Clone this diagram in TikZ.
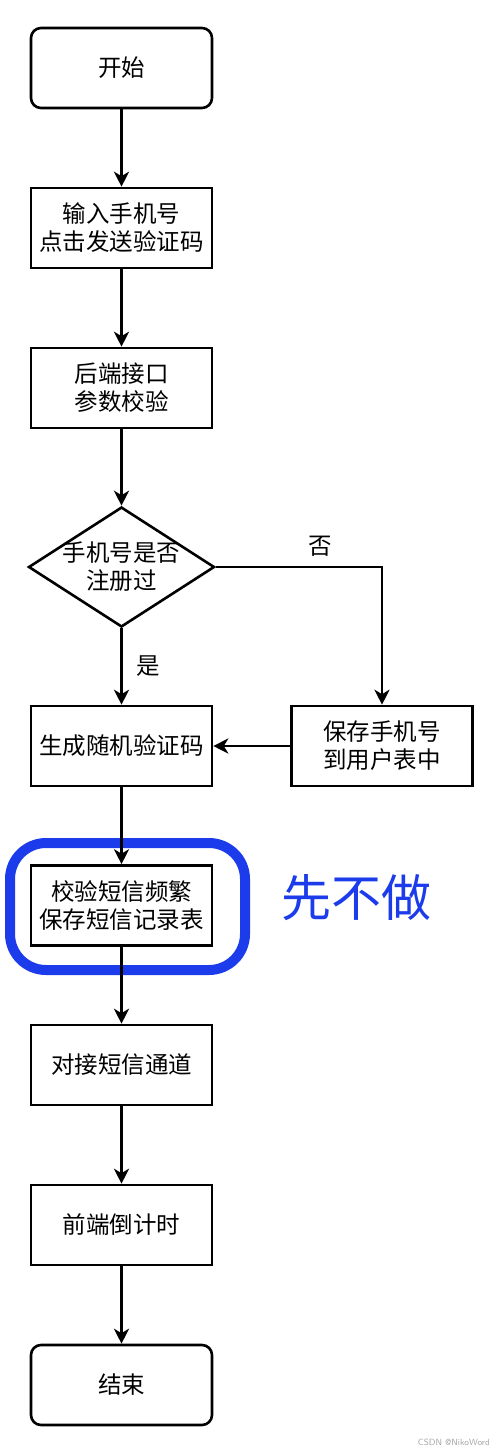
\documentclass[tikz,border=0pt]{standalone}
\usepackage{fontspec}
\setmainfont{Noto Sans CJK SC}
\usetikzlibrary{shapes.geometric,arrows.meta}
\definecolor{todoblue}{RGB}{28,60,235}
\begin{document}
\begin{tikzpicture}[x=1pt,y=-1pt,
  every node/.style={font=\fontsize{23.5}{28}\selectfont, align=center, inner sep=0pt},
  procbox/.style={draw, line width=2.6pt, minimum width=181pt, minimum height=80pt},
  termbox/.style={procbox, rounded corners=10pt},
  decide/.style={draw, line width=2.6pt, shape=diamond, minimum width=186pt, minimum height=120pt},
  flow/.style={line width=2.6pt, -{Stealth[length=15pt,width=15pt,inset=4.5pt]}},
  lbl/.style={font=\fontsize{23.5}{26}\selectfont}]
\useasboundingbox (0,0) rectangle (500,1452);
\node[termbox] (start) at (121.5,68) {开始};
\node[procbox] (input) at (121.5,228) {输入手机号\\点击发送验证码};
\node[procbox] (check) at (121.5,388) {后端接口\\参数校验};
\node[decide] (reg) at (121.5,567) {};
\node (regtext) at (121.5,567) {手机号是否\\注册过};
\node[procbox] (gen) at (121.5,746) {生成随机验证码};
\node[procbox] (save) at (382,746) {保存手机号\\到用户表中};
\node[procbox] (freq) at (121.5,905.5) {校验短信频繁\\保存短信记录表};
\node[procbox] (chan) at (121.5,1065) {对接短信通道};
\node[procbox] (cnt) at (121.5,1225) {前端倒计时};
\node[termbox] (end) at (121.5,1385) {结束};
\draw[todoblue, line width=10pt, rounded corners=36pt] (10,843) rectangle (245,970);
\node[text=todoblue, font=\fontsize{50}{54}\selectfont, anchor=west] (todo) at (281,898) {先不做};
\coordinate (turn) at (382,567);
\draw[flow] (start) -- (input);
\draw[flow] (input) -- (check);
\draw[flow] (check) -- (reg);
\draw[flow] (reg) -- node[lbl, right=14pt, pos=0.5] {是} (gen);
\draw[flow] (reg.east) -- node[lbl, above=9pt, pos=0.63] {否} (turn) -- (save);
\draw[flow] (save) -- (gen);
\draw[flow] (gen) -- (freq);
\draw[flow] (freq) -- (chan);
\draw[flow] (chan) -- (cnt);
\draw[flow] (cnt) -- (end);
\node[text=black!35, font=\fontsize{9}{10}\sffamily, anchor=east] (wm) at (490,1442) {CSDN @NikoWord};
\end{tikzpicture}
\end{document}
